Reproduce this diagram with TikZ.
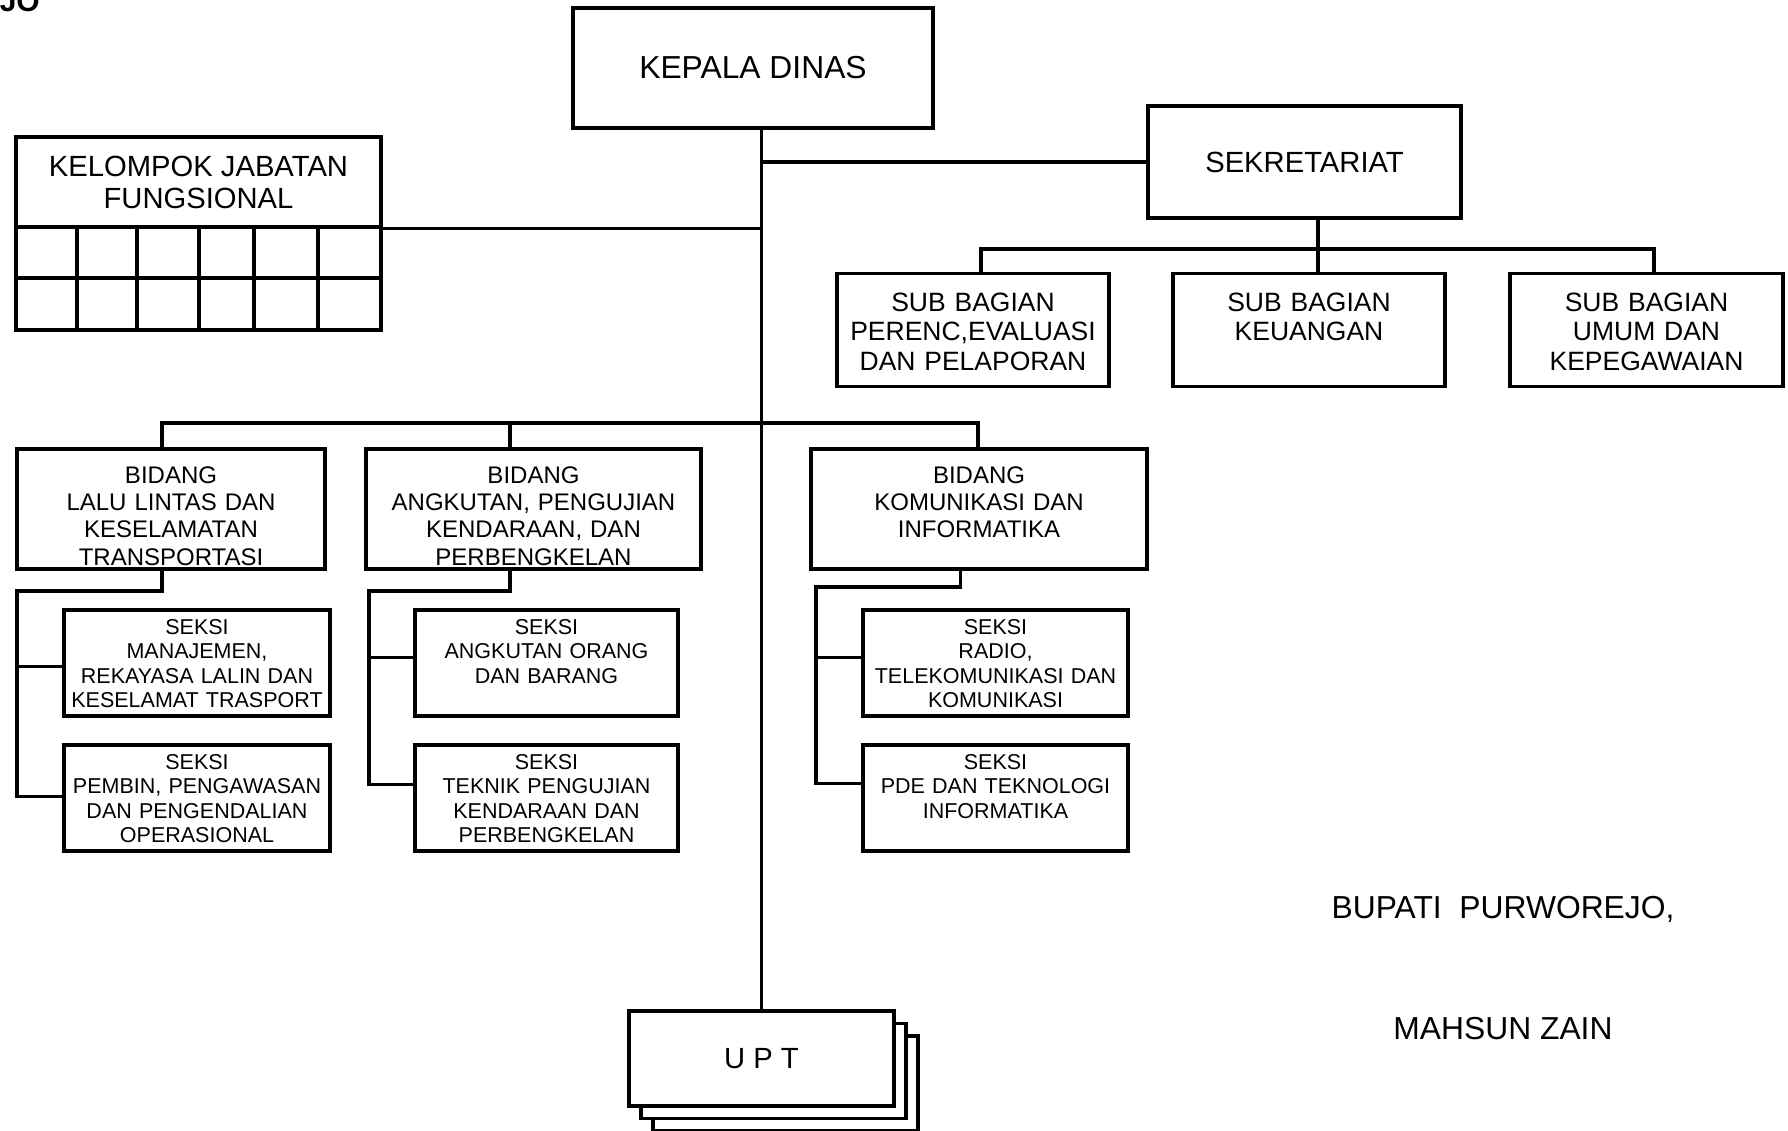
\documentclass[tikz,border=0pt]{standalone}
\usepackage{fontspec}
\setmainfont{Liberation Sans}
\usepackage{tikz}
\usetikzlibrary{shadows}
\tikzset{b/.style={draw, line width=3.5pt, inner sep=0pt, align=center}}
\tikzset{ln/.style={line width=3.4pt}}
\tikzset{xl/.style={font=\fontsize{31.8}{36}\selectfont}}
\tikzset{l/.style={font=\fontsize{29.2}{32}\selectfont}}
\tikzset{sb/.style={b, anchor=north, font=\fontsize{26.5}{29.5}\selectfont, text height=37.5pt, text depth=75.5pt}}
\tikzset{bd/.style={b, anchor=north, font=\fontsize{24}{27.3}\selectfont, text height=34.6pt, text depth=85.4pt}}
\tikzset{sk/.style={b, anchor=north, font=\fontsize{21.5}{24.4}\selectfont, text height=24.7pt, text depth=81.3pt}}

\begin{document}
\begin{tikzpicture}[x=1pt,y=-1pt]
        \useasboundingbox (0,0) rectangle (1788,1131);
        \begin{scope}
          \node [anchor=south east, inner sep=0pt, font=\fontsize{30}{30}\bfseries] (jo) at (40,12) {JO};
          \node [b, xl, minimum width=360pt, minimum height=120pt] (kd) at (753,68) {KEPALA DINAS};
          \node [b, l, minimum width=313pt, minimum height=112pt] (sek) at (1304.5,162) {SEKRETARIAT};
          \node [b, l, minimum width=365pt, minimum height=90pt] (kjf) at (198.5,182) {KELOMPOK JABATAN\\FUNGSIONAL};
          \draw [ln] (16,227) rectangle (381,330) (16,278) -- (381,278);
          \foreach \x in {77,137,199,254,318}
            \draw [ln] (\x,227) -- (\x,330);
          \node [sb, text width=272pt] (sb1) at (973,272) {SUB BAGIAN\\PERENC,EVALUASI\\DAN PELAPORAN};
          \node [sb, text width=272pt] (sb2) at (1309,272) {SUB BAGIAN\\KEUANGAN};
          \node [sb, text width=273pt] (sb3) at (1646.5,272) {SUB BAGIAN\\UMUM DAN\\KEPEGAWAIAN};
          \node [bd, text width=308pt] (bd1) at (171,447) {BIDANG\\LALU LINTAS DAN\\KESELAMATAN\\TRANSPORTASI};
          \node [bd, text width=335pt] (bd2) at (533.5,447) {BIDANG\\ANGKUTAN, PENGUJIAN\\KENDARAAN, DAN\\PERBENGKELAN};
          \node [bd, text width=336pt] (bd3) at (979,447) {BIDANG\\KOMUNIKASI DAN\\INFORMATIKA};
          \node [sk, text width=266pt] (s1a) at (197,608) {SEKSI\\MANAJEMEN,\\REKAYASA LALIN DAN\\KESELAMAT TRASPORT};
          \node [sk, text width=266pt] (s1b) at (197,743) {SEKSI\\PEMBIN, PENGAWASAN\\DAN PENGENDALIAN\\OPERASIONAL};
          \node [sk, text width=263pt] (s2a) at (546.5,608) {SEKSI\\ANGKUTAN ORANG\\DAN BARANG};
          \node [sk, text width=263pt] (s2b) at (546.5,743) {SEKSI\\TEKNIK PENGUJIAN\\KENDARAAN DAN\\PERBENGKELAN};
          \node [sk, text width=265pt] (s3a) at (995.5,608) {SEKSI\\RADIO,\\TELEKOMUNIKASI DAN\\KOMUNIKASI};
          \node [sk, text width=265pt] (s3b) at (995.5,743) {SEKSI\\PDE DAN TEKNOLOGI\\INFORMATIKA};
          \node [b, l, fill=white, minimum width=265pt, minimum height=95pt,
            double copy shadow={shadow xshift=12pt, shadow yshift=-12.5pt}] (upt) at (761.5,1058.5) {U P T};
          \node [xl] (bup) at (1503,909) {BUPATI\ \ PURWOREJO,};
          \node [xl] (mz) at (1503,1029) {MAHSUN ZAIN};
          \coordinate (sbbar) at (1318,249);
          \coordinate (bdbar) at (762,423);
          \coordinate (c1) at (17,591);
          \coordinate (c2) at (369,591);
          \coordinate (c3) at (816,587);
          \draw [ln] (kd.south -| upt.north) -- (upt.north);
          \draw [ln] (upt.north |- sek.west) -- (sek.west);
          \draw [ln] (kjf.south east) -- (kjf.south east -| upt.north);
          \draw [ln] ([xshift=13.5pt]sek.south) -- ([xshift=9pt]sb2.north);
          \draw [ln] ([xshift=8pt]sb1.north) |- (sbbar) -| ([xshift=7.5pt]sb3.north);
          \draw [ln] ([xshift=-9pt]bd1.north) |- (bdbar) -| ([xshift=-1pt]bd3.north);
          \draw [ln] ([xshift=-23.5pt]bd2.north) |- (bdbar);
          \draw [ln] ([xshift=-9pt]bd1.south) |- (c1) |- ([yshift=1pt]s1b.west);
          \draw [ln] ([yshift=-4pt]s1a.west) -- ([yshift=-4pt]s1a.west -| c1);
          \draw [ln] ([xshift=-23.5pt]bd2.south) |- (c2) |- ([yshift=13pt]s2b.west);
          \draw [ln] ([yshift=5pt]s2a.west) -- ([yshift=5pt]s2a.west -| c2);
          \draw [ln] ([xshift=-18.5pt]bd3.south) |- (c3) |- ([yshift=14pt]s3b.west);
          \draw [ln] ([yshift=5pt]s3a.west) -- ([yshift=5pt]s3a.west -| c3);
        \end{scope}
      \end{tikzpicture}
\end{document}
